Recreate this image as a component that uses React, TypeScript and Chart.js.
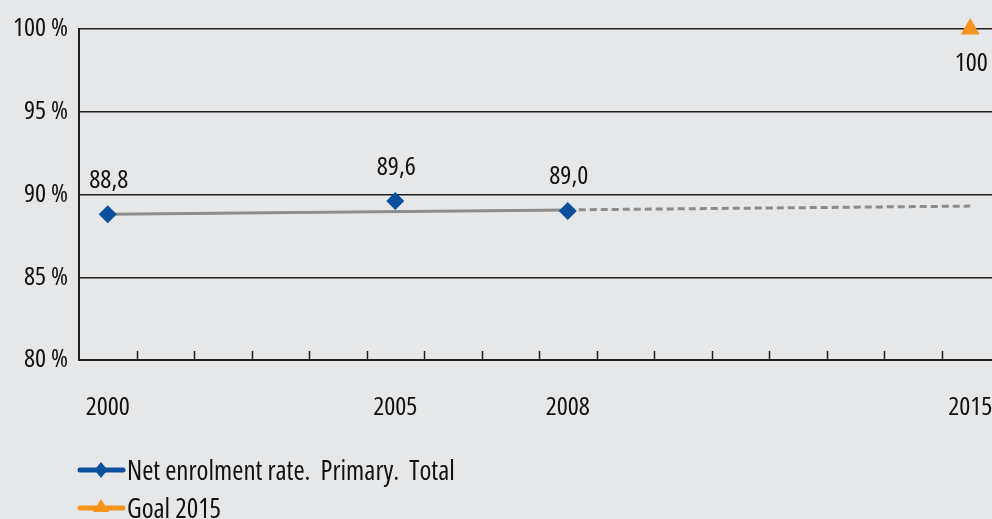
import React, { useEffect, useRef } from "react";
import { Chart, registerables } from "chart.js";

Chart.register(...registerables);

const FONT = "'Open Sans', 'Roboto Condensed', sans-serif";
const STRETCH = "condensed";
const FS = 26;

const enrolYears = [2000, 2005, 2008];
const enrolValues = [88.8, 89.6, 89.0];
const enrolLabels = ["88,8", "89,6", "89,0"];

const trendSolidYears = [2000, 2008];
const trendSolidValues = [88.8, 89.07];
const trendDashYears = [2008, 2015];
const trendDashValues = [89.07, 89.3];

const goalYears = [2015];
const goalValues = [100];
const goalLabels = ["100"];

const xTickYears = [2000, 2005, 2008, 2015];
const minorTickYears = [2000.5, 2001.5, 2002.5, 2003.5, 2004.5, 2005.5, 2006.5, 2007.5, 2008.5, 2009.5, 2010.5, 2011.5, 2012.5, 2013.5, 2014.5];

const legendNames = ["Net enrolment rate.  Primary.  Total", "Goal 2015"];

const BLUE = "#0b4f9f";
const ORANGE = "#f7941d";
const GRAY = "#8c8c8c";
const BG = "#e6e7e8";
const INK = "#231f20";
const TEXT = "#111111";

const extrasPlugin = {
  id: "extras",
  afterDraw(chart: any) {
    const ctx = chart.ctx;
    const xs = chart.scales.x;
    const bottom = chart.chartArea.bottom;
    ctx.save();
    ctx.strokeStyle = INK;
    ctx.lineWidth = 1.5;
    minorTickYears.forEach((yr) => {
      const px = Math.round(xs.getPixelForValue(yr)) + 0.5;
      ctx.beginPath();
      ctx.moveTo(px, bottom - 9);
      ctx.lineTo(px, bottom);
      ctx.stroke();
    });
    ctx.fillStyle = TEXT;
    ctx.font = `${STRETCH} ${FS}px ${FONT}`;
    ctx.textAlign = "center";
    ctx.textBaseline = "middle";
    const m0 = chart.getDatasetMeta(0);
    m0.data.forEach((pt: any, i: number) => {
      ctx.fillText(enrolLabels[i], pt.x + 1, pt.y - 34);
    });
    const m3 = chart.getDatasetMeta(3);
    m3.data.forEach((pt: any, i: number) => {
      ctx.fillText(goalLabels[i], pt.x + 1, pt.y + 35);
    });
    ctx.restore();
  },
};

function LegendIcon({ color, shape }: { color: string; shape: "diamond" | "triangle" }) {
  return (
    <svg width="50" height="20" style={{ display: "block" }}>
      <line x1="4" y1="10" x2="47" y2="10" stroke={color} strokeWidth="5" strokeLinecap="round" />
      {shape === "diamond" ? (
        <polygon points="25,2 31.5,10 25,18 18.5,10" fill={color} />
      ) : (
        <polygon points="25,1 33,14 17,14" fill={color} />
      )}
    </svg>
  );
}

export default function App() {
  const ref = useRef<HTMLCanvasElement | null>(null);
  useEffect(() => {
    document.body.style.margin = "0";
    document.body.style.overflow = "hidden";
    document.body.style.background = BG;
    const canvas = ref.current!;
    const tickFont = { family: FONT, size: FS, weight: STRETCH as any };
    const chart = new Chart(canvas, {
      type: "line",
      data: {
        datasets: [
          {
            label: legendNames[0],
            data: enrolYears.map((x, i) => ({ x, y: enrolValues[i] })),
            showLine: false,
            pointStyle: "rectRot",
            pointRadius: 9,
            pointBackgroundColor: BLUE,
            pointBorderColor: BLUE,
            pointBorderWidth: 0,
            borderColor: BLUE,
          },
          {
            label: "trend",
            data: trendSolidYears.map((x, i) => ({ x, y: trendSolidValues[i] })),
            borderColor: GRAY,
            borderWidth: 3,
            pointRadius: 0,
          },
          {
            label: "trend2",
            data: trendDashYears.map((x, i) => ({ x, y: trendDashValues[i] })),
            borderColor: GRAY,
            borderWidth: 3,
            borderDash: [7, 4],
            pointRadius: 0,
          },
          {
            label: legendNames[1],
            data: goalYears.map((x, i) => ({ x, y: goalValues[i] })),
            showLine: false,
            pointStyle: "triangle",
            pointRadius: 11,
            pointBackgroundColor: ORANGE,
            pointBorderColor: ORANGE,
            pointBorderWidth: 0,
            clip: false as any,
          },
        ],
      },
      options: {
        responsive: true,
        maintainAspectRatio: false,
        animation: false,
        layout: { padding: { top: 29, right: 7, left: 0, bottom: 0 } },
        plugins: { legend: { display: false }, tooltip: { enabled: false } },
        scales: {
          x: {
            type: "linear",
            min: 1999.5,
            max: 2015.5,
            afterBuildTicks: (s: any) => {
              s.ticks = xTickYears.map((v) => ({ value: v }));
            },
            afterFit: (s: any) => {
              s.height = 159;
              s.paddingLeft = 0;
              s.paddingRight = 0;
            },
            grid: { display: false, drawTicks: false },
            border: { display: true, color: INK, width: 2 },
            ticks: {
              callback: (v: any) => String(v),
              color: TEXT,
              font: tickFont,
              padding: 32,
              maxRotation: 0,
              autoSkip: false,
            },
          },
          y: {
            min: 80,
            max: 100,
            afterFit: (s: any) => {
              s.width = 79;
            },
            grid: {
              color: (c: any) => (c.tick && c.tick.value === 80 ? "rgba(0,0,0,0)" : INK),
              lineWidth: 1.5,
              drawTicks: false,
            },
            border: { display: true, color: INK, width: 2 },
            ticks: {
              stepSize: 5,
              callback: (v: any) => v + " %",
              color: TEXT,
              font: tickFont,
              padding: 11,
            },
          },
        },
      },
      plugins: [extrasPlugin],
    });
    return () => chart.destroy();
  }, []);

  const legendText: React.CSSProperties = {
    fontFamily: FONT,
    fontStretch: STRETCH,
    fontSize: 27,
    color: TEXT,
    lineHeight: "30px",
    whiteSpace: "pre",
    marginLeft: 1,
  };

  return (
    <div style={{ position: "relative", width: 992, height: 519, overflow: "hidden", background: BG }}>
      <div style={{ position: "absolute", left: 0, top: 0, width: 1010, height: 519 }}>
        <canvas ref={ref} />
      </div>
      <div style={{ position: "absolute", left: 76, top: 455, display: "flex", alignItems: "center" }}>
        <LegendIcon color={BLUE} shape="diamond" />
        <span style={legendText}>{legendNames[0]}</span>
      </div>
      <div style={{ position: "absolute", left: 76, top: 493, display: "flex", alignItems: "center" }}>
        <LegendIcon color={ORANGE} shape="triangle" />
        <span style={legendText}>{legendNames[1]}</span>
      </div>
    </div>
  );
}
